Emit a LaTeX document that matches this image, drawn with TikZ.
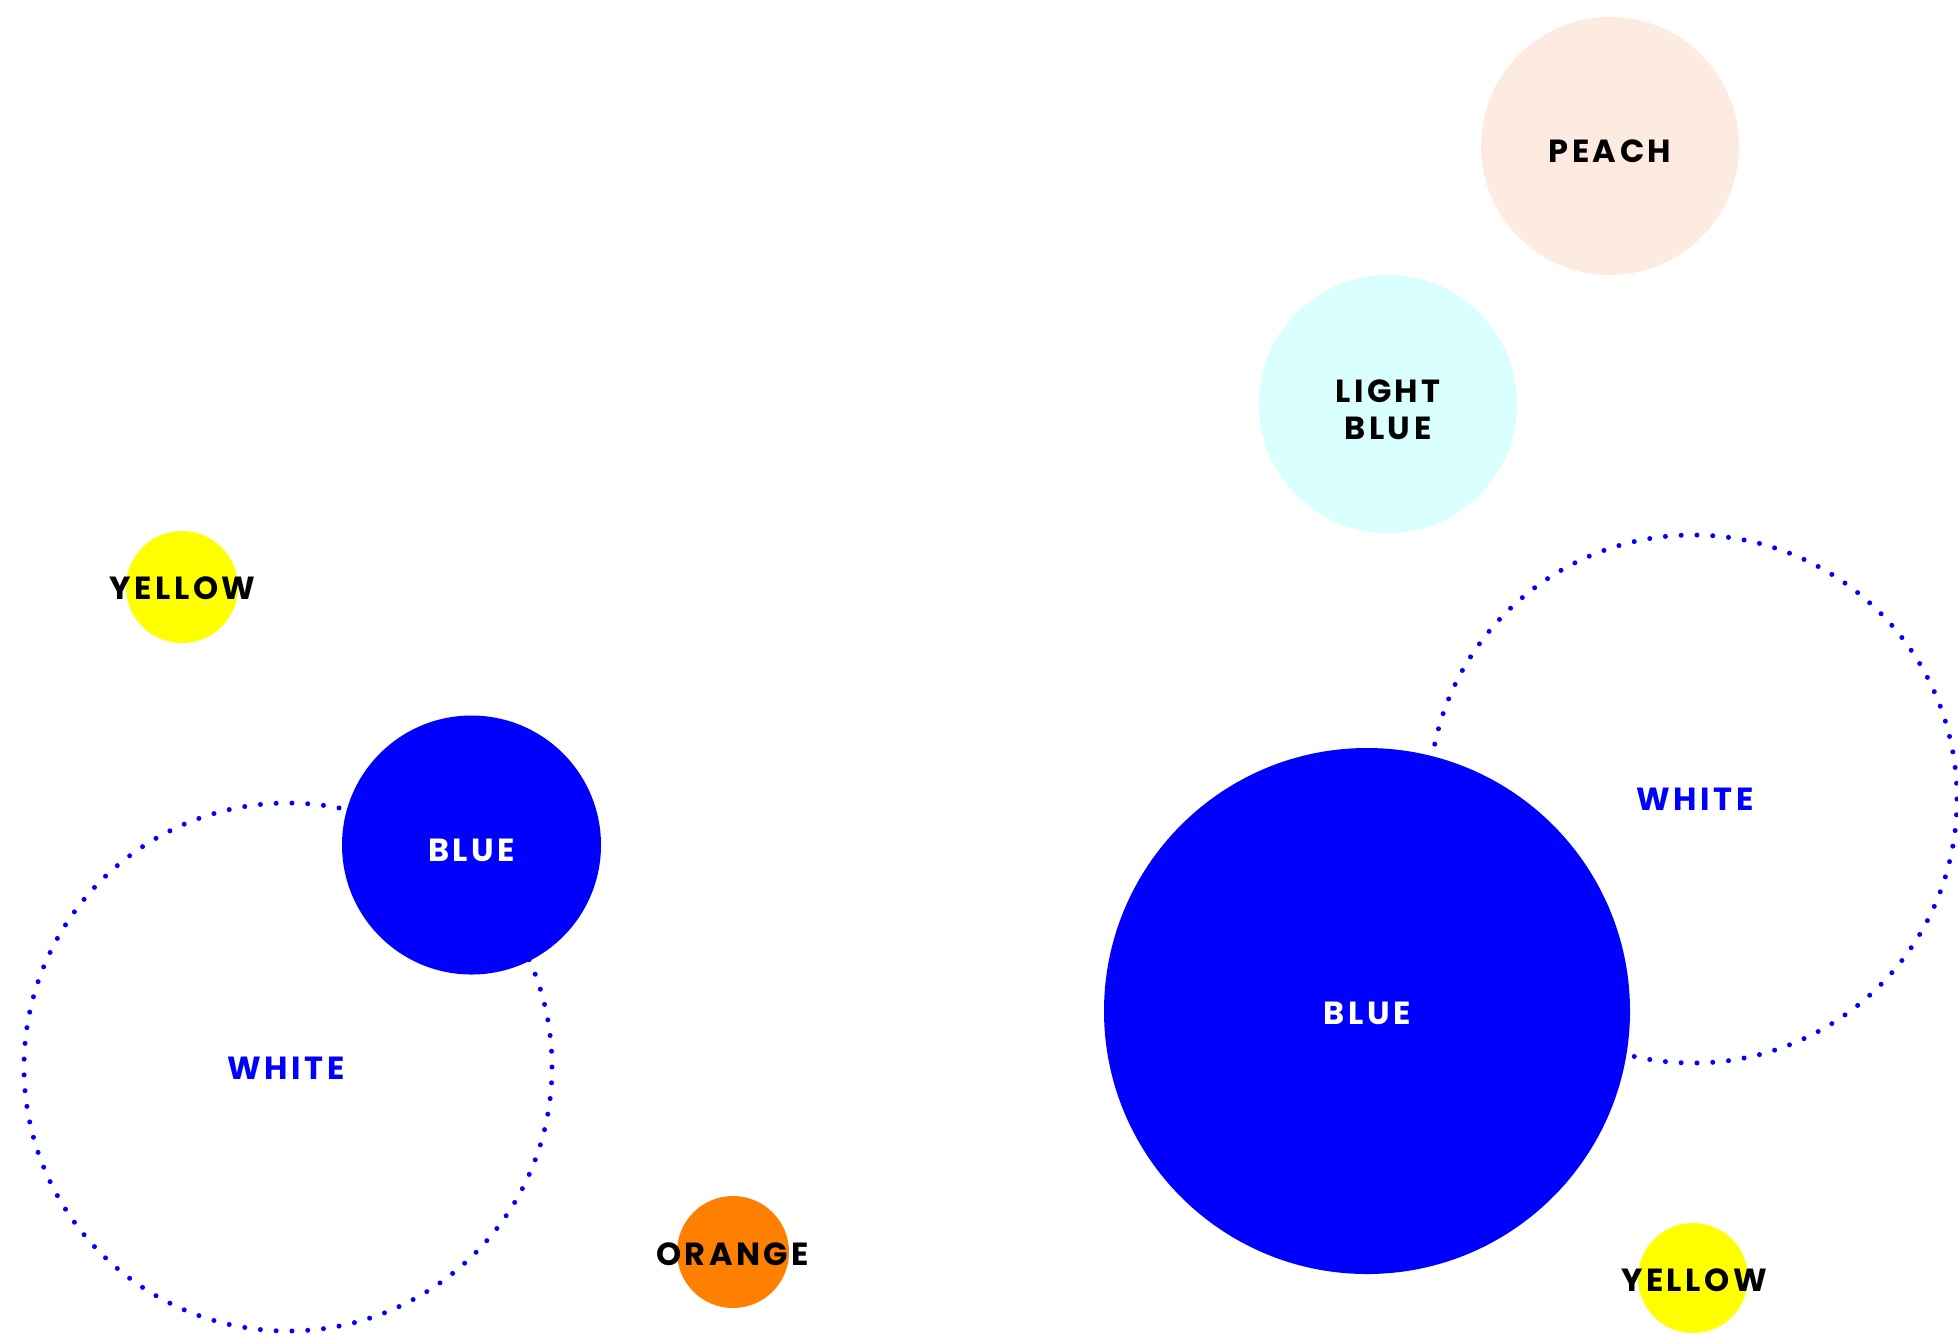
\documentclass[tikz,border=0pt]{standalone}
\usepackage{fontspec}
\usepackage{tikz}
\newfontfamily\lblfont[LetterSpace=11]{Poppins}
\definecolor{pureblue}{RGB}{0,0,255}
\definecolor{peach}{RGB}{253,235,225}
\definecolor{lightblue}{RGB}{217,255,255}
\definecolor{sunyellow}{RGB}{255,255,0}
\definecolor{brightorange}{RGB}{255,128,0}
\tikzset{every picture/.style={line width=0.75pt}}
\tikzset{
  disc/.style={circle, inner sep=0pt, draw=none},
  ringdots/.style={circle, inner sep=0pt, draw=pureblue, fill=white, line width=2.5pt, line cap=round, dash pattern=on 0pt off 7.9pt},
  lbl/.style={inner sep=0.75pt, align=center, font=\lblfont\bfseries\fontsize{16pt}{18.5pt}\selectfont}
}

\begin{document}
\begin{tikzpicture}[x=0.5pt,y=0.5pt,yscale=-1,xscale=1]
\useasboundingbox (0,0) rectangle (1958,1334);

%Shape: Circle, dotted
\node [ringdots, minimum size=264pt] (whiteleft) at (288,1067) {};
%Shape: Circle, dotted
\node [ringdots, minimum size=264pt] (whiteright) at (1693,799) {};

%Shape: Circle
\node [disc, fill=peach, minimum size=129pt] (peach) at (1610,146) {};
%Shape: Circle
\node [disc, fill=lightblue, minimum size=129pt] (lightblue) at (1388,404) {};
%Shape: Circle
\node [disc, fill=sunyellow, minimum size=56pt] (yellowleft) at (182,587) {};
%Shape: Circle
\node [disc, fill=pureblue, minimum size=129.5pt] (blueleft) at (471.5,845) {};
%Shape: Circle
\node [disc, fill=brightorange, minimum size=56pt] (orange) at (733,1252) {};
%Shape: Circle
\node [disc, fill=pureblue, minimum size=263pt] (blueright) at (1367,1011) {};
%Shape: Circle
\node [disc, fill=sunyellow, minimum size=55pt] (yellowright) at (1693,1278) {};

% Text Node
\node [lbl] (peachtxt) at (1610,151) {PEACH};
% Text Node
\node [lbl] (lightbluetxt) at (1388,409.5) {LIGHT\\BLUE};
% Text Node
\node [lbl] (yellowlefttxt) at (182.5,588) {YELLOW};
% Text Node
\node [lbl, text=white] (bluelefttxt) at (471.5,850) {BLUE};
% Text Node
\node [lbl, text=pureblue] (whitelefttxt) at (286,1068) {WHITE};
% Text Node
\node [lbl] (orangetxt) at (732.5,1254) {ORANGE};
% Text Node
\node [lbl, text=white] (bluerighttxt) at (1367,1013) {BLUE};
% Text Node
\node [lbl, text=pureblue] (whiterighttxt) at (1695,799) {WHITE};
% Text Node
\node [lbl] (yellowrighttxt) at (1694,1280.5) {YELLOW};

\end{tikzpicture}
\end{document}
